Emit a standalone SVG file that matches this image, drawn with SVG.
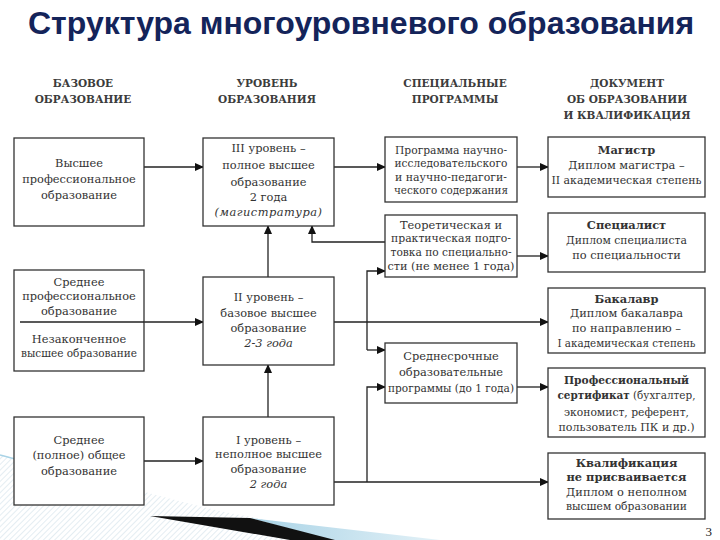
<svg xmlns="http://www.w3.org/2000/svg" width="720" height="540" viewBox="0 0 720 540">
<style>
.title{font-family:"Liberation Sans",Arial,sans-serif;font-weight:bold;font-size:32px;fill:#14245a}
.hd{font-family:"DejaVu Serif","Liberation Serif",serif;font-weight:bold;font-size:10.5px;fill:#3c3c3c;text-anchor:middle}
.t{font-family:"DejaVu Serif","Liberation Serif",serif;font-size:11.4px;fill:#333;text-anchor:middle}
.b{font-weight:bold}
.i{font-style:italic}
.box{fill:#fff;stroke:#333;stroke-width:1.3}
.ln{fill:none;stroke:#222;stroke-width:1.3}
</style>
<defs>
<marker id="ar" markerUnits="userSpaceOnUse" markerWidth="9" markerHeight="8" refX="8" refY="4" orient="auto">
<path d="M0,0 L9,4 L0,8 z" fill="#111"/>
</marker>
<pattern id="hatch" patternUnits="userSpaceOnUse" width="4" height="4" patternTransform="rotate(45)">
<line x1="0" y1="0" x2="0" y2="4" stroke="#c9dbe6" stroke-width="1"/>
</pattern>
<linearGradient id="blu" x1="0" y1="0" x2="1" y2="0">
<stop offset="0" stop-color="#a9d3e6"/>
<stop offset="1" stop-color="#e3f1f7"/>
</linearGradient>
</defs>
<rect width="720" height="540" fill="#fff"/>
<g id="decor">
<path d="M0,455 C80,470 160,500 240,515 L380,540 L0,540 z" fill="url(#hatch)"/>
<path d="M0,455 C20,460 30,463 40,468" fill="none" stroke="#a9d3e6" stroke-width="1.5"/>
<path d="M250,518 L440,540 L330,540 z" fill="url(#blu)"/>
<path d="M150,516 L250,518 L335,540 L290,540 z" fill="#111"/>
</g>
<text class="title" x="28" y="34">Структура многоуровневого образования</text>
<g id="headers">
<text class="hd" x="83" y="87">БАЗОВОЕ</text>
<text class="hd" x="83" y="103">ОБРАЗОВАНИЕ</text>
<text class="hd" x="267" y="87">УРОВЕНЬ</text>
<text class="hd" x="267" y="103">ОБРАЗОВАНИЯ</text>
<text class="hd" x="455" y="87">СПЕЦИАЛЬНЫЕ</text>
<text class="hd" x="455" y="103">ПРОГРАММЫ</text>
<text class="hd" x="627" y="87">ДОКУМЕНТ</text>
<text class="hd" x="627" y="103">ОБ ОБРАЗОВАНИИ</text>
<text class="hd" x="627" y="119">И КВАЛИФИКАЦИЯ</text>
</g>
<g id="connectors">
<path class="ln" d="M144,167 H203" marker-end="url(#ar)"/>
<path class="ln" d="M20,322 H203" marker-end="url(#ar)"/>
<path class="ln" d="M144,461 H203" marker-end="url(#ar)"/>
<path class="ln" d="M268,277 V226" marker-end="url(#ar)"/>
<path class="ln" d="M268,417 V365" marker-end="url(#ar)"/>
<path class="ln" d="M334,167 H385" marker-end="url(#ar)"/>
<path class="ln" d="M517,167 H548" marker-end="url(#ar)"/>
<path class="ln" d="M385,242 H312 V226" marker-end="url(#ar)"/>
<path class="ln" d="M517,256 H548" marker-end="url(#ar)"/>
<path class="ln" d="M334,322 H548" marker-end="url(#ar)"/>
<path class="ln" d="M367,350 V271 H385" marker-end="url(#ar)"/>
<path class="ln" d="M367,350 H385" marker-end="url(#ar)"/>
<path class="ln" d="M517,387 H548" marker-end="url(#ar)"/>
<path class="ln" d="M334,482 H548" marker-end="url(#ar)"/>
<path class="ln" d="M367,482 V387 H385" marker-end="url(#ar)"/>
</g>
<g id="base-higher">
<rect class="box" x="14" y="138" width="130" height="88"/>
<text class="t" x="79" y="167">Высшее</text>
<text class="t" x="79" y="183">профессиональное</text>
<text class="t" x="79" y="199">образование</text>
</g>
<g id="base-secondary-prof">
<rect class="box" x="14" y="270" width="130" height="101"/>
<line x1="20" y1="322" x2="144" y2="322" stroke="#222" stroke-width="1.3"/>
<text class="t" x="79" y="286">Среднее</text>
<text class="t" x="79" y="300">профессиональное</text>
<text class="t" x="79" y="315">образование</text>
<text class="t" x="79" y="343">Незаконченное</text>
<text class="t" x="79" y="357" textLength="116" lengthAdjust="spacingAndGlyphs">высшее образование</text>
</g>
<g id="base-secondary">
<rect class="box" x="14" y="417" width="130" height="88"/>
<text class="t" x="79" y="444">Среднее</text>
<text class="t" x="79" y="459">(полное) общее</text>
<text class="t" x="79" y="475">образование</text>
</g>
<g id="level3">
<rect class="box" x="203" y="138" width="131" height="88"/>
<text class="t" x="268.5" y="152">III уровень –</text>
<text class="t" x="268.5" y="169">полное высшее</text>
<text class="t" x="268.5" y="186">образование</text>
<text class="t" x="268.5" y="201">2 года</text>
<text class="t i" x="268.5" y="216" font-size="10.5" letter-spacing="0.5">(магистратура)</text>
</g>
<g id="level2">
<rect class="box" x="203" y="277" width="131" height="88"/>
<text class="t" x="268.5" y="301">II уровень –</text>
<text class="t" x="268.5" y="317">базовое высшее</text>
<text class="t" x="268.5" y="332">образование</text>
<text class="t i" x="268.5" y="347">2-3 года</text>
</g>
<g id="level1">
<rect class="box" x="203" y="417" width="131" height="88"/>
<text class="t" x="268.5" y="444">I уровень –</text>
<text class="t" x="268.5" y="458">неполное высшее</text>
<text class="t" x="268.5" y="473">образование</text>
<text class="t i" x="268.5" y="488">2 года</text>
</g>
<g id="prog-research">
<rect class="box" x="385" y="137" width="132" height="65"/>
<text class="t" x="451" y="154" textLength="112" lengthAdjust="spacingAndGlyphs">Программа научно-</text>
<text class="t" x="451" y="167" textLength="113" lengthAdjust="spacingAndGlyphs">исследовательского</text>
<text class="t" x="451" y="181" textLength="112" lengthAdjust="spacingAndGlyphs">и научно-педагоги-</text>
<text class="t" x="451" y="194" textLength="114" lengthAdjust="spacingAndGlyphs">ческого содержания</text>
</g>
<g id="prog-theory">
<rect class="box" x="385" y="215" width="132" height="62"/>
<text class="t" x="451" y="229">Теоретическая и</text>
<text class="t" x="451" y="242" textLength="120" lengthAdjust="spacingAndGlyphs">практическая подго-</text>
<text class="t" x="451" y="256" textLength="121" lengthAdjust="spacingAndGlyphs">товка по специально-</text>
<text class="t" x="451" y="270" textLength="127" lengthAdjust="spacingAndGlyphs">сти (не менее 1 года)</text>
</g>
<g id="prog-mid">
<rect class="box" x="385" y="343" width="132" height="60"/>
<text class="t" x="451" y="360">Среднесрочные</text>
<text class="t" x="451" y="376">образовательные</text>
<text class="t" x="451" y="392" textLength="126" lengthAdjust="spacingAndGlyphs">программы (до 1 года)</text>
</g>
<g id="doc-master">
<rect class="box" x="548" y="137" width="157" height="60"/>
<text class="t b" x="626.5" y="154">Магистр</text>
<text class="t" x="626.5" y="169">Диплом магистра –</text>
<text class="t" x="626.5" y="184" textLength="150" lengthAdjust="spacingAndGlyphs">II академическая степень</text>
</g>
<g id="doc-specialist">
<rect class="box" x="548" y="213" width="157" height="59"/>
<text class="t b" x="626.5" y="229">Специалист</text>
<text class="t" x="626.5" y="244" textLength="121" lengthAdjust="spacingAndGlyphs">Диплом специалиста</text>
<text class="t" x="626.5" y="259">по специальности</text>
</g>
<g id="doc-bachelor">
<rect class="box" x="548" y="288" width="157" height="65"/>
<text class="t b" x="626.5" y="303">Бакалавр</text>
<text class="t" x="626.5" y="317">Диплом бакалавра</text>
<text class="t" x="626.5" y="332">по направлению –</text>
<text class="t" x="626.5" y="347" textLength="138" lengthAdjust="spacingAndGlyphs">I академическая степень</text>
</g>
<g id="doc-certificate">
<rect class="box" x="548" y="368" width="157" height="69"/>
<text class="t b" x="626.5" y="384" textLength="125" lengthAdjust="spacingAndGlyphs">Профессиональный</text>
<text class="t" x="626.5" y="399" textLength="138" lengthAdjust="spacingAndGlyphs"><tspan class="b">сертификат</tspan> (бухгалтер,</text>
<text class="t" x="626.5" y="416" textLength="125" lengthAdjust="spacingAndGlyphs">экономист, референт,</text>
<text class="t" x="626.5" y="431" textLength="136" lengthAdjust="spacingAndGlyphs">пользователь ПК и др.)</text>
</g>
<g id="doc-none">
<rect class="box" x="548" y="453" width="157" height="66"/>
<text class="t b" x="626.5" y="467">Квалификация</text>
<text class="t b" x="626.5" y="481">не присваивается</text>
<text class="t" x="626.5" y="496">Диплом о неполном</text>
<text class="t" x="626.5" y="510" textLength="121" lengthAdjust="spacingAndGlyphs">высшем образовании</text>
</g>
<text x="712" y="536" font-family="'Liberation Serif',serif" font-size="13" fill="#222" text-anchor="end">3</text>
</svg>
